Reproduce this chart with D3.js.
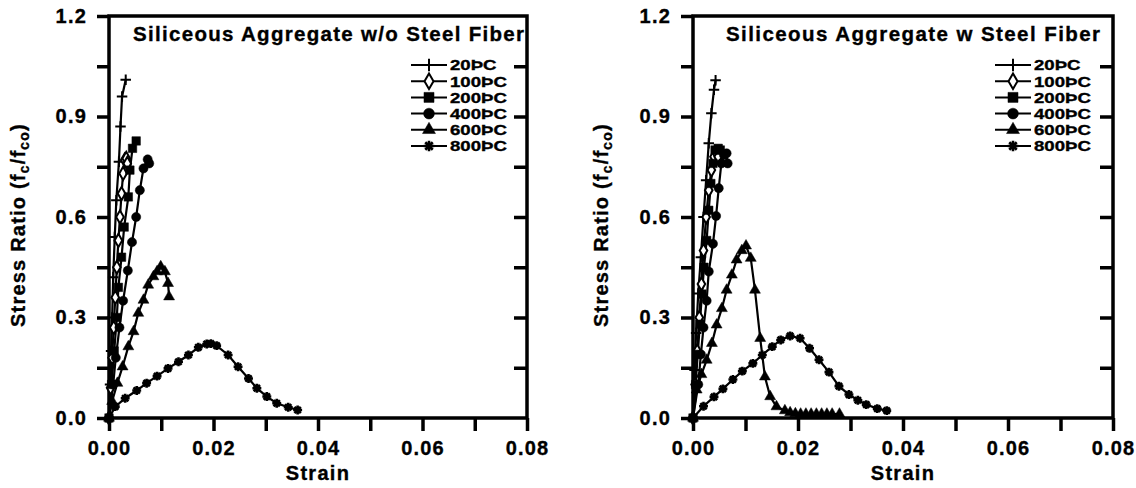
<!DOCTYPE html>
<html>
<head>
<meta charset="utf-8">
<script src="https://cdn.jsdelivr.net/npm/d3@7"></script>
<style>
  html, body { margin: 0; padding: 0; background: #fff; }
  svg { display: block; }
  text { font-family: "Liberation Sans", Arial, Helvetica, sans-serif; font-weight: bold; fill: #000; stroke: #000; stroke-width: 0.35px; }
</style>
</head>
<body>
<script>
// Temperature groups shown in both panels
const temps = ["20ÞC", "100ÞC", "200ÞC", "400ÞC", "600ÞC", "800ÞC"];

// Stress ratio vs. strain, siliceous aggregate without steel fiber
const plain20  = [[0,0],[0.0002,0.1],[0.0004,0.2],[0.0006,0.3],[0.0008,0.42],[0.0011,0.54],[0.0014,0.65],[0.0019,0.765],[0.0022,0.87],[0.0025,0.96],[0.0032,1.01]];
const plain100 = [[0,0],[0.0003,0.09],[0.0006,0.18],[0.0009,0.27],[0.0012,0.36],[0.0015,0.45],[0.0018,0.53],[0.0021,0.6],[0.0024,0.67],[0.0027,0.73],[0.003,0.77],[0.0033,0.775],[0.0035,0.76]];
const plain200 = [[0,0],[0.0005,0.1],[0.001,0.2],[0.0015,0.3],[0.0018,0.39],[0.0024,0.48],[0.0029,0.57],[0.0037,0.66],[0.004,0.74],[0.0045,0.805],[0.0052,0.827]];
const plain400 = [[0,0],[0.0008,0.1],[0.0013,0.18],[0.002,0.27],[0.0027,0.35],[0.0036,0.44],[0.0044,0.525],[0.0052,0.6],[0.0059,0.68],[0.0066,0.745],[0.0074,0.772],[0.0077,0.76]];
const plain600 = [[0,0],[0.0006,0.05],[0.0016,0.104],[0.0026,0.153],[0.0037,0.213],[0.0047,0.258],[0.0056,0.313],[0.0066,0.352],[0.0075,0.397],[0.0085,0.422],[0.0092,0.437],[0.0099,0.452],[0.0107,0.437],[0.0113,0.402],[0.0115,0.362]];
const plain800 = [[0,0],[0.0012,0.034],[0.0031,0.059],[0.0053,0.082],[0.0072,0.104],[0.0092,0.125],[0.0113,0.148],[0.0133,0.168],[0.0152,0.188],[0.0171,0.211],[0.0187,0.221],[0.0195,0.222],[0.0206,0.216],[0.0228,0.188],[0.0247,0.153],[0.0267,0.118],[0.0283,0.089],[0.0302,0.064],[0.0321,0.044],[0.0343,0.032],[0.0361,0.024]];

// Stress ratio vs. strain, siliceous aggregate with steel fiber
const fiber20  = [[0,0],[0.0003,0.143],[0.0006,0.254],[0.001,0.372],[0.0015,0.48],[0.002,0.6],[0.0025,0.71],[0.003,0.82],[0.0035,0.91],[0.004,0.98],[0.0043,1.008]];
const fiber100 = [[0,0],[0.0004,0.1],[0.0008,0.2],[0.0012,0.3],[0.0016,0.4],[0.002,0.5],[0.0025,0.6],[0.003,0.68],[0.0035,0.74],[0.004,0.78],[0.0045,0.79],[0.0048,0.78]];
const fiber200 = [[0,0],[0.0005,0.1],[0.0009,0.19],[0.0013,0.28],[0.0017,0.37],[0.0021,0.45],[0.0026,0.53],[0.003,0.62],[0.0034,0.7],[0.0038,0.76],[0.0042,0.8],[0.0048,0.805],[0.0052,0.8]];
const fiber400 = [[0,0],[0.001,0.1],[0.0015,0.19],[0.002,0.27],[0.0026,0.35],[0.003,0.437],[0.0038,0.52],[0.0044,0.603],[0.0049,0.686],[0.0054,0.76],[0.0059,0.785],[0.0064,0.79],[0.0066,0.76]];
const fiber600 = [[0,0],[0.0007,0.084],[0.0016,0.13],[0.0026,0.173],[0.0036,0.223],[0.0045,0.278],[0.0055,0.327],[0.0064,0.382],[0.0074,0.427],[0.0083,0.472],[0.0093,0.5],[0.0101,0.514],[0.011,0.477],[0.0118,0.382],[0.0128,0.238],[0.0137,0.123],[0.0147,0.064],[0.0159,0.034],[0.0175,0.022],[0.0185,0.016],[0.0195,0.013],[0.0205,0.012],[0.0215,0.012],[0.0225,0.012],[0.0235,0.012],[0.0245,0.012],[0.0255,0.012],[0.0265,0.012],[0.0279,0.012]];
const fiber800 = [[0,0],[0.002,0.035],[0.004,0.063],[0.0057,0.087],[0.0076,0.115],[0.0094,0.14],[0.0114,0.163],[0.0132,0.188],[0.0151,0.213],[0.0167,0.233],[0.0185,0.245],[0.0204,0.238],[0.0222,0.208],[0.024,0.174],[0.0259,0.137],[0.0278,0.095],[0.0297,0.07],[0.0314,0.053],[0.033,0.04],[0.0351,0.028],[0.0369,0.022]];

// Axis ticks
const strainTicks = [0, 0.01, 0.02, 0.03, 0.04, 0.05, 0.06, 0.07, 0.08];
const ratioTicks  = [0, 0.15, 0.3, 0.45, 0.6, 0.75, 0.9, 1.05, 1.2];

const titles = ["Siliceous Aggregate w/o Steel Fiber", "Siliceous Aggregate w Steel Fiber"];

// ---- custom stroked marker shapes ----
const symPlus = {
  draw(ctx, size) {
    const r = Math.sqrt(size) / 2;
    ctx.moveTo(-r, 0); ctx.lineTo(r, 0);
    ctx.moveTo(0, -r); ctx.lineTo(0, r);
  }
};
const symStar = {
  draw(ctx, size) {
    const r = Math.sqrt(size) / 2;
    for (let k = 0; k < 4; k++) {
      const a = k * Math.PI / 4;
      ctx.moveTo(-r * Math.cos(a), -r * Math.sin(a));
      ctx.lineTo(r * Math.cos(a), r * Math.sin(a));
    }
  }
};

const markers = [
  { type: symPlus,          size: 110, fill: "none",  stroke: 2 },
  { type: d3.symbolDiamond, size: 50,  fill: "#fff",  stroke: 2 },
  { type: d3.symbolSquare,  size: 72,  fill: "#000",  stroke: 0.5 },
  { type: d3.symbolCircle,  size: 66,  fill: "#000",  stroke: 0.5 },
  { type: d3.symbolTriangle,size: 52,  fill: "#000",  stroke: 0.5 },
  { type: symStar,          size: 80,  fill: "none",  stroke: 2.6 }
];

const W = 1136, H = 488;
const svg = d3.select("body").append("svg").attr("width", W).attr("height", H);

const panels = [
  { series: [plain20, plain100, plain200, plain400, plain600, plain800],
    title: titles[0], left: 109, right: 527, titleX: 133, titleLen: 391,
    legendX: 411, yLabelX: 25 },
  { series: [fiber20, fiber100, fiber200, fiber400, fiber600, fiber800],
    title: titles[1], left: 693, right: 1113, titleX: 726, titleLen: 374,
    legendX: 995, yLabelX: 608 }
];

const plotTop = 16, plotBottom = 418;

panels.forEach(p => {
  const g = svg.append("g");
  const x = d3.scaleLinear().domain([0, 0.08]).range([p.left, p.right]);
  const y = d3.scaleLinear().domain([0, 1.2]).range([plotBottom, plotTop]);

  // bottom axis
  const xAxis = d3.axisBottom(x).tickValues(strainTicks).tickSize(13).tickPadding(10)
    .tickFormat(d => Math.round(d * 100) % 2 === 0 ? d3.format(".2f")(d) : "");
  const gx = g.append("g").attr("transform", `translate(0,${plotBottom})`).call(xAxis);

  // left axis
  const yAxis = d3.axisLeft(y).tickValues(ratioTicks).tickSize(12).tickPadding(10)
    .tickFormat(d => Math.round(d / 0.15) % 2 === 0 ? d3.format(".1f")(d) : "");
  const gy = g.append("g").attr("transform", `translate(${p.left},0)`).call(yAxis);

  // inward ticks on the right frame
  const yAxisR = d3.axisLeft(y).tickValues(ratioTicks.slice(1, -1)).tickSize(13).tickFormat("");
  const gr = g.append("g").attr("transform", `translate(${p.right},0)`).call(yAxisR);

  [gx, gy, gr].forEach(a => {
    a.select(".domain").remove();
    a.selectAll(".tick line").attr("stroke", "#000").attr("stroke-width", 3.5);
    a.selectAll(".tick text").attr("font-size", 20).style("letter-spacing", "1.2px")
      .attr("font-family", "Liberation Sans, Arial, sans-serif").attr("font-weight", "bold");
  });

  // frame
  g.append("rect")
    .attr("x", p.left).attr("y", plotTop)
    .attr("width", p.right - p.left).attr("height", plotBottom - plotTop)
    .attr("fill", "none").attr("stroke", "#000").attr("stroke-width", 3.5);

  // curves
  const line = d3.line().x(d => x(d[0])).y(d => y(d[1]));
  p.series.forEach(s => {
    g.append("path").datum(s).attr("d", line)
      .attr("fill", "none").attr("stroke", "#000").attr("stroke-width", 2.2);
  });
  p.series.forEach((s, i) => {
    const m = markers[i];
    const sym = d3.symbol().type(m.type).size(m.size);
    g.append("g").selectAll("path").data(s).join("path")
      .attr("transform", d => `translate(${x(d[0])},${y(d[1])})`)
      .attr("d", sym)
      .attr("fill", m.fill).attr("stroke", "#000").attr("stroke-width", m.stroke);
  });

  // title
  g.append("text").attr("x", p.titleX).attr("y", 40.5)
    .attr("font-size", 20.5).attr("textLength", p.titleLen).attr("lengthAdjust", "spacing")
    .text(p.title);

  // legend
  const rowY = d3.scaleLinear().domain([0, 5]).range([65, 146]);
  temps.forEach((t, i) => {
    const cy = rowY(i);
    const lg = g.append("g");
    lg.append("line").attr("x1", p.legendX).attr("x2", p.legendX + 36)
      .attr("y1", cy).attr("y2", cy).attr("stroke", "#000").attr("stroke-width", 2);
    const m = markers[i];
    lg.append("path").attr("transform", `translate(${p.legendX + 18},${cy})`)
      .attr("d", d3.symbol().type(m.type).size(m.size * 1.4))
      .attr("fill", m.fill).attr("stroke", "#000").attr("stroke-width", m.stroke);
    lg.append("text")
      .attr("transform", `translate(${p.legendX + 39},${cy + 5.3}) scale(1.3,1)`)
      .attr("font-size", 14.3).text(t);
  });

  // axis titles
  g.append("text").attr("x", (p.left + p.right) / 2).attr("y", 480)
    .attr("text-anchor", "middle").attr("font-size", 20).style("letter-spacing", "1.3px")
    .text("Strain");

  const yl = g.append("text")
    .attr("transform", `translate(${p.yLabelX},225) rotate(-90)`)
    .attr("text-anchor", "middle").attr("font-size", 20).style("letter-spacing", "1.2px");
  yl.append("tspan").text("Stress Ratio (f");
  yl.append("tspan").attr("font-size", 14).attr("dy", 4).text("c");
  yl.append("tspan").attr("dy", -4).text("/f");
  yl.append("tspan").attr("font-size", 14).attr("dy", 4).text("co");
  yl.append("tspan").attr("dy", -4).text(")");
});
</script>
</body>
</html>
